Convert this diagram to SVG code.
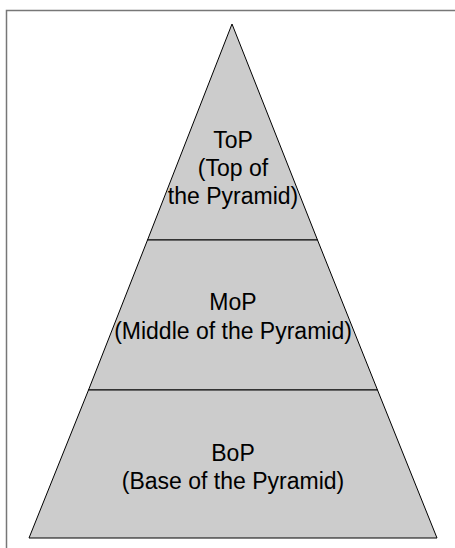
<svg xmlns="http://www.w3.org/2000/svg" width="455" height="548" viewBox="0 0 455 548">
<style>
.lvl{fill:#cccccc;stroke:#000;stroke-width:1}
.t{font-family:"Liberation Sans",Arial,sans-serif;font-size:23px;fill:#000;text-anchor:middle}
</style>
<rect x="0" y="0" width="455" height="548" fill="#fff"/>
<rect x="6.5" y="10.5" width="470" height="560" fill="none" stroke="#777" stroke-width="1.5"/>
<g id="top">
<polygon class="lvl" points="232,24 317.5,240 147.5,240"/>
<text class="t" x="233" y="147.5">ToP</text>
<text class="t" x="233" y="175.5">(Top of</text>
<text class="t" x="233" y="204">the Pyramid)</text>
</g>
<g id="middle">
<polygon class="lvl" points="147.5,240 317.5,240 377.5,390 88.5,390"/>
<text class="t" x="233" y="309.5">MoP</text>
<text class="t" x="233" y="338.5">(Middle of the Pyramid)</text>
</g>
<g id="base">
<polygon class="lvl" points="88.5,390 377.5,390 437,538 29,538"/>
<text class="t" x="233" y="461">BoP</text>
<text class="t" x="233" y="489">(Base of the Pyramid)</text>
</g>
<g id="connectors"></g>
</svg>
